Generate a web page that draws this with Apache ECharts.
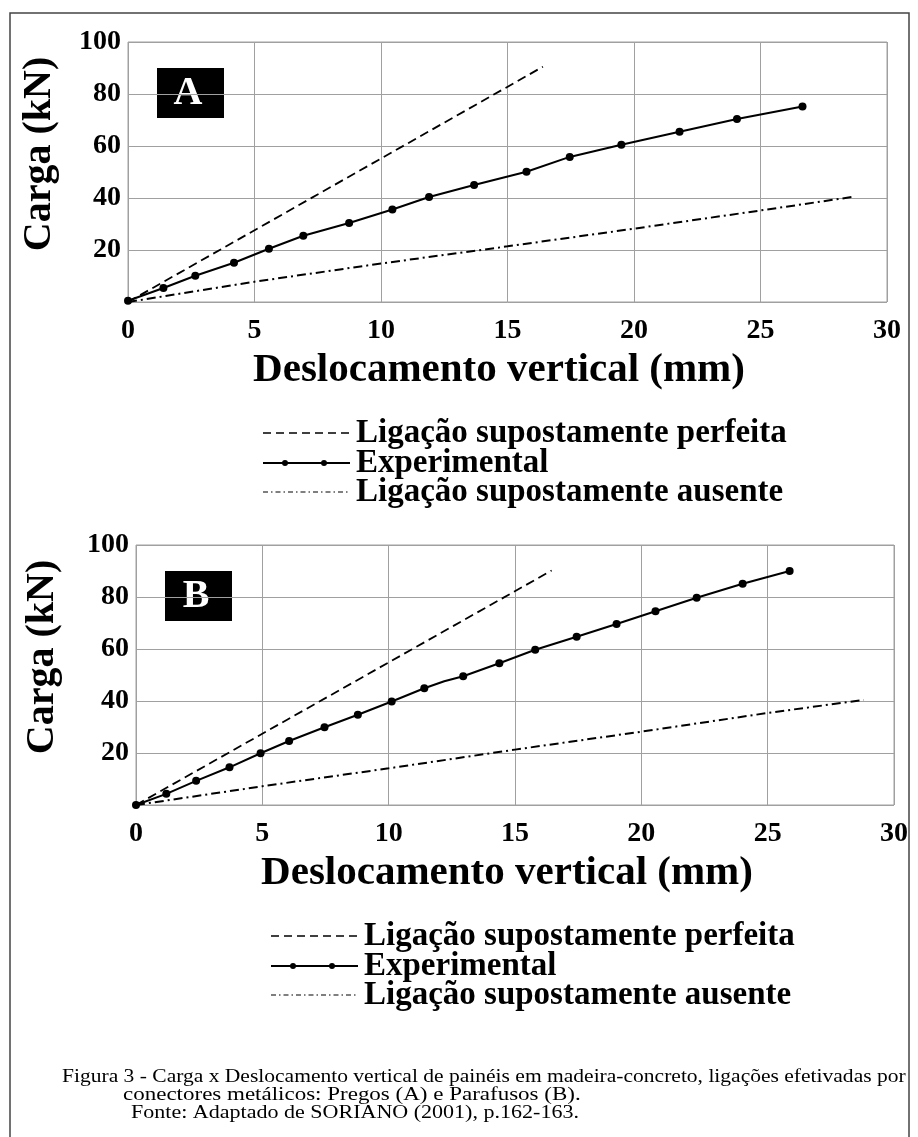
<!DOCTYPE html>
<html>
<head>
<meta charset="utf-8">
<script src="https://cdn.jsdelivr.net/npm/echarts@6/dist/echarts.min.js"></script>
<style>
html,body{margin:0;padding:0;background:#fff;}
#chart{width:918px;height:1137px;}
</style>
</head>
<body>
<div id="chart"></div>
<script>
// ---- Data ----
const xTicks = [0, 5, 10, 15, 20, 25, 30];
const yTicks = [20, 40, 60, 80, 100];

// Panel A (Pregos)
const A_perfeita_x = [0, 16.4];
const A_perfeita_y = [0, 90.5];
const A_exp_x = [0, 1.40, 2.66, 4.19, 5.57, 6.93, 8.74, 10.45, 11.9, 13.68, 15.75, 17.46, 19.5, 21.8, 24.07, 26.66];
const A_exp_y = [0.5, 5.4, 10.1, 15.1, 20.5, 25.5, 30.4, 35.6, 40.4, 45.0, 50.1, 55.8, 60.5, 65.5, 70.4, 75.2];
const A_ausente_x = [0, 5, 10, 15, 20, 25, 28.7];
const A_ausente_y = [0, 7.8, 14.8, 21.4, 28.2, 35.2, 40.5];

// Panel B (Parafusos)
const B_perfeita_x = [0, 16.45];
const B_perfeita_y = [0, 90.2];
const B_exp_x = [0, 1.2, 2.38, 3.70, 4.93, 6.06, 7.46, 8.78, 10.12, 11.41, 12.2, 12.95, 14.38, 15.8, 17.44, 19.02, 20.56, 22.19, 24.01, 25.87];
const B_exp_y = [0, 4.3, 9.3, 14.5, 19.9, 24.6, 29.9, 34.7, 39.8, 44.9, 47.6, 49.5, 54.5, 59.7, 64.7, 69.6, 74.5, 79.7, 85.1, 90.0];
const B_exp_marker = [1, 1, 1, 1, 1, 1, 1, 1, 1, 1, 0, 1, 1, 1, 1, 1, 1, 1, 1, 1];
const B_ausente_x = [0, 5, 10, 15, 20, 25, 28.8];
const B_ausente_y = [0, 7.2, 14.1, 21.3, 28.2, 35.4, 40.4];

const legendNames = ['Ligação supostamente perfeita', 'Experimental', 'Ligação supostamente ausente'];
const panelLabels = ['A', 'B'];
const xTitle = 'Deslocamento vertical (mm)';
const yTitle = 'Carga (kN)';
const captionLines = [
  'Figura 3 - Carga x Deslocamento vertical de painéis em madeira-concreto, ligações efetivadas por',
  'conectores metálicos: Pregos (A) e Parafusos (B).',
  'Fonte: Adaptado de SORIANO (2001), p.162-163.'
];

// ---- Helpers ----
const zip = (xs, ys) => xs.map((x, i) => [x, ys[i]]);
const FONT = 'Liberation Serif, Times New Roman, serif';
const GRIDC = '#a0a0a0';
const DASH = [9, 5];
const DASHDOT = [9, 4, 2, 4];

function makeAxes(gi) {
  return {
    x: {
      gridIndex: gi, type: 'value', min: 0, max: 30, interval: 5,
      axisLine: {show: false}, axisTick: {show: false},
      splitLine: {show: true, lineStyle: {color: GRIDC, width: 1}},
      axisLabel: {fontFamily: FONT, fontWeight: 'bold', fontSize: 28, color: '#000', margin: 15,
        formatter: v => xTicks.includes(v) ? String(v) : ''}
    },
    y: {
      gridIndex: gi, type: 'value', min: 0, max: 100, interval: 20,
      axisLine: {show: false}, axisTick: {show: false},
      splitLine: {show: true, lineStyle: {color: GRIDC, width: 1}},
      axisLabel: {fontFamily: FONT, fontWeight: 'bold', fontSize: 28, color: '#000', margin: 7,
        formatter: v => yTicks.includes(v) ? String(v) : ''}
    }
  };
}
const axA = makeAxes(0), axB = makeAxes(1);

function theorySeries(gi, data, dash, w) {
  return {
    type: 'line', xAxisIndex: gi, yAxisIndex: gi, data: data, symbol: 'none',
    lineStyle: {color: '#000', width: w, type: dash}, silent: true, animation: false, z: 3
  };
}
function expSeries(gi, data) {
  return {
    type: 'line', xAxisIndex: gi, yAxisIndex: gi, data: data, symbol: 'circle', symbolSize: 8,
    itemStyle: {color: '#000'}, lineStyle: {color: '#000', width: 2}, animation: false, z: 4
  };
}

const B_exp_data = B_exp_x.map((x, i) => B_exp_marker[i] ? [x, B_exp_y[i]] : {value: [x, B_exp_y[i]], symbol: 'none'});

// ---- Graphic decorations (legend, titles, labels, caption, frame) ----
function legendGraphic(x0, y0) {
  const els = [];
  const lx1 = x0, lx2 = x0 + 87, tx = x0 + 93;
  els.push({type: 'line', shape: {x1: lx1, y1: y0, x2: lx2, y2: y0}, style: {stroke: '#000', lineWidth: 1.6, lineDash: [8, 5]}});
  els.push({type: 'line', shape: {x1: lx1, y1: y0 + 30, x2: lx2, y2: y0 + 30}, style: {stroke: '#000', lineWidth: 2}});
  els.push({type: 'circle', shape: {cx: lx1 + 22, cy: y0 + 30, r: 3}, style: {fill: '#000'}});
  els.push({type: 'circle', shape: {cx: lx1 + 61, cy: y0 + 30, r: 3}, style: {fill: '#000'}});
  els.push({type: 'line', shape: {x1: lx1, y1: y0 + 59, x2: lx2, y2: y0 + 59}, style: {stroke: '#000', lineWidth: 1.2, lineDash: [5, 3, 1.5, 3]}});
  [0, 30, 59].forEach((dy, i) => {
    els.push({type: 'text', x: tx, y: y0 + dy, style: {text: legendNames[i], font: 'bold 33px ' + FONT, fill: '#000', textVerticalAlign: 'middle', textAlign: 'left'}});
  });
  return els;
}
function panelGraphic(bx, by, label, ytx, yty, xtx, xty) {
  return [
    {type: 'rect', shape: {x: bx, y: by, width: 67, height: 50}, style: {fill: '#000'}},
    {type: 'text', x: bx + 31, y: by + 26, style: {text: label, font: 'bold 40px ' + FONT, fill: '#fff', textAlign: 'center', textVerticalAlign: 'middle'}},
    {type: 'text', x: ytx, y: yty, rotation: Math.PI / 2, style: {text: yTitle, font: 'bold 40px ' + FONT, fill: '#000', textAlign: 'center', textVerticalAlign: 'middle'}},
    {type: 'text', x: xtx, y: xty, style: {text: xTitle, font: 'bold 41px ' + FONT, fill: '#000', textAlign: 'center', textVerticalAlign: 'middle'}}
  ];
}

const captionX = [62, 123, 131];
const captionScale = [1.196, 1.277, 1.224];
const captionY = [1077, 1095, 1113];

const graphics = [
  {type: 'rect', shape: {x: 10, y: 13, width: 899, height: 1150}, style: {fill: 'none', stroke: '#444', lineWidth: 1.5}, z: 0},
  ...panelGraphic(157, 68, panelLabels[0], 40, 154, 499, 370),
  ...panelGraphic(165, 571, panelLabels[1], 43, 657, 507, 873),
  ...legendGraphic(263, 433),
  ...legendGraphic(271, 936),
  ...captionLines.map((t, i) => ({
    type: 'text', x: captionX[i], y: captionY[i], scaleX: captionScale[i],
    style: {text: t, font: '18px ' + FONT, fill: '#000', textVerticalAlign: 'middle'}
  }))
];

const chart = echarts.init(document.getElementById('chart'), null, {renderer: 'canvas'});
chart.setOption({
  backgroundColor: '#fff',
  animation: false,
  grid: [
    {left: 128, top: 42, width: 759, height: 260, show: true, borderColor: GRIDC, borderWidth: 1, backgroundColor: 'transparent'},
    {left: 136, top: 545, width: 758, height: 260, show: true, borderColor: GRIDC, borderWidth: 1, backgroundColor: 'transparent'}
  ],
  xAxis: [axA.x, axB.x],
  yAxis: [axA.y, axB.y],
  series: [
    theorySeries(0, zip(A_perfeita_x, A_perfeita_y), DASH, 1.8),
    expSeries(0, zip(A_exp_x, A_exp_y)),
    theorySeries(0, zip(A_ausente_x, A_ausente_y), DASHDOT, 2),
    theorySeries(1, zip(B_perfeita_x, B_perfeita_y), DASH, 1.8),
    expSeries(1, B_exp_data),
    theorySeries(1, zip(B_ausente_x, B_ausente_y), DASHDOT, 2)
  ],
  graphic: graphics
});
</script>
</body>
</html>
